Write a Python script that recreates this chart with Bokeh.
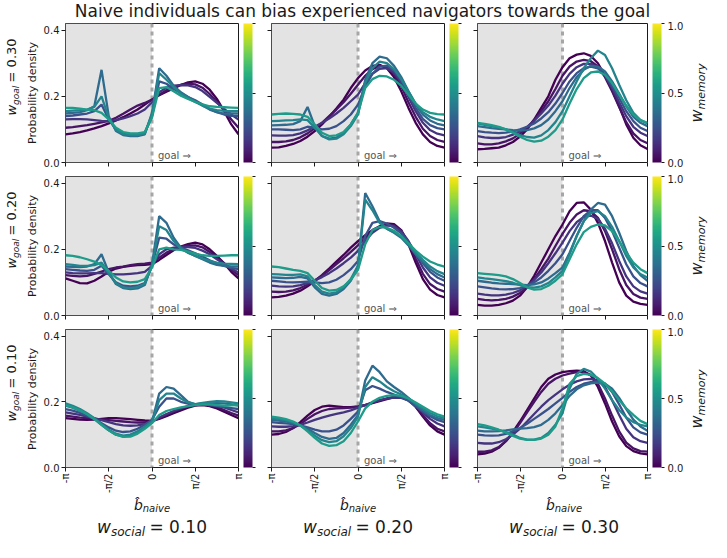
import math
import numpy as np
from bokeh.plotting import figure
from bokeh.layouts import row, column
from bokeh.models import (Range1d, FixedTicker, ColorBar, LinearColorMapper, BoxAnnotation,
                          Span, Label, CustomJSTickFormatter, Title)
from bokeh.palettes import Viridis256
from bokeh.embed import file_html
from bokeh.resources import INLINE
from bokeh.core.properties import value

# ---------------- data ----------------
n_bins = 25
heading = np.linspace(-np.pi, np.pi, n_bins)          # bin centres of b_naive (rad)
w_memory = [0.0, 0.05, 0.15, 0.25, 0.35, 0.45, 0.55]  # one line per value (colour)
w_goal_rows = ["0.30", "0.20", "0.10"]
w_social_cols = ["0.10", "0.20", "0.30"]
x_ticks = [-math.pi, -math.pi / 2, 0, math.pi / 2, math.pi]
x_tick_labels = ["-π", "-π/2", "0", "π/2", "π"]
y_ticks = [0.0, 0.2, 0.4]
y_tick_labels = ["0.0", "0.2", "0.4"]
cbar_ticks = [0.0, 0.5, 1.0]
cbar_tick_labels = ["0.0", "0.5", "1.0"]
title_text = "Naive individuals can bias experienced navigators towards the goal"

dens_g30_s10 = [
    [0.085,0.088,0.092,0.097,0.103,0.110,0.118,0.127,0.137,0.148,0.160,0.175,0.190,0.203,0.214,0.224,0.234,0.242,0.245,0.238,0.220,0.192,0.155,0.115,0.085],
    [0.105,0.107,0.110,0.113,0.117,0.121,0.126,0.135,0.147,0.160,0.172,0.180,0.190,0.205,0.218,0.228,0.235,0.238,0.236,0.226,0.207,0.183,0.158,0.130,0.105],
    [0.130,0.131,0.131,0.130,0.128,0.126,0.125,0.128,0.133,0.140,0.148,0.160,0.182,0.212,0.226,0.232,0.234,0.233,0.228,0.216,0.198,0.180,0.162,0.145,0.130],
    [0.140,0.142,0.145,0.148,0.155,0.175,0.130,0.100,0.088,0.085,0.085,0.090,0.140,0.245,0.238,0.222,0.210,0.198,0.188,0.175,0.162,0.152,0.145,0.141,0.140],
    [0.148,0.150,0.152,0.158,0.170,0.280,0.140,0.095,0.083,0.080,0.080,0.085,0.150,0.285,0.262,0.232,0.212,0.198,0.185,0.172,0.160,0.152,0.148,0.148,0.148],
    [0.155,0.157,0.158,0.160,0.168,0.200,0.135,0.098,0.086,0.083,0.083,0.088,0.145,0.270,0.250,0.228,0.208,0.195,0.183,0.172,0.163,0.158,0.156,0.155,0.155],
    [0.165,0.165,0.163,0.160,0.158,0.150,0.130,0.105,0.092,0.088,0.088,0.092,0.135,0.225,0.228,0.215,0.202,0.192,0.183,0.176,0.170,0.168,0.167,0.166,0.165],
]
dens_g30_s20 = [
    [0.045,0.046,0.050,0.056,0.065,0.078,0.095,0.115,0.138,0.163,0.190,0.225,0.255,0.278,0.292,0.295,0.285,0.258,0.215,0.165,0.120,0.085,0.062,0.050,0.045],
    [0.062,0.062,0.064,0.068,0.076,0.088,0.103,0.120,0.140,0.160,0.182,0.208,0.235,0.262,0.282,0.292,0.288,0.268,0.230,0.182,0.138,0.102,0.080,0.068,0.062],
    [0.082,0.081,0.081,0.083,0.088,0.097,0.108,0.120,0.133,0.148,0.165,0.185,0.205,0.240,0.268,0.283,0.285,0.272,0.242,0.198,0.155,0.120,0.098,0.087,0.082],
    [0.100,0.100,0.099,0.098,0.100,0.108,0.105,0.100,0.102,0.110,0.125,0.145,0.175,0.228,0.268,0.290,0.293,0.278,0.248,0.205,0.165,0.132,0.113,0.104,0.100],
    [0.112,0.113,0.114,0.116,0.125,0.168,0.110,0.080,0.072,0.075,0.090,0.115,0.150,0.250,0.300,0.320,0.315,0.292,0.258,0.215,0.175,0.145,0.127,0.117,0.112],
    [0.125,0.126,0.127,0.128,0.130,0.128,0.105,0.080,0.070,0.072,0.085,0.110,0.145,0.240,0.285,0.305,0.300,0.282,0.252,0.215,0.178,0.152,0.138,0.130,0.125],
    [0.145,0.147,0.148,0.147,0.145,0.138,0.115,0.090,0.080,0.082,0.092,0.115,0.150,0.225,0.252,0.262,0.260,0.250,0.232,0.205,0.178,0.160,0.150,0.146,0.145],
]
dens_g30_s30 = [
    [0.040,0.041,0.043,0.045,0.052,0.062,0.078,0.100,0.130,0.165,0.200,0.250,0.288,0.315,0.326,0.330,0.322,0.300,0.262,0.220,0.170,0.115,0.075,0.052,0.041],
    [0.058,0.055,0.055,0.058,0.064,0.073,0.087,0.105,0.128,0.155,0.185,0.222,0.262,0.290,0.305,0.310,0.306,0.290,0.258,0.215,0.168,0.122,0.088,0.068,0.058],
    [0.080,0.076,0.074,0.074,0.077,0.084,0.094,0.108,0.126,0.148,0.172,0.202,0.238,0.268,0.288,0.298,0.298,0.288,0.262,0.225,0.182,0.140,0.108,0.090,0.080],
    [0.095,0.092,0.090,0.089,0.090,0.094,0.100,0.108,0.118,0.133,0.152,0.178,0.210,0.245,0.270,0.285,0.290,0.284,0.265,0.232,0.195,0.155,0.125,0.105,0.095],
    [0.110,0.107,0.104,0.102,0.100,0.098,0.097,0.098,0.103,0.113,0.130,0.155,0.185,0.225,0.258,0.280,0.292,0.290,0.275,0.245,0.208,0.170,0.138,0.120,0.110],
    [0.118,0.114,0.110,0.106,0.100,0.092,0.083,0.077,0.075,0.082,0.098,0.122,0.155,0.200,0.245,0.285,0.315,0.338,0.325,0.285,0.235,0.188,0.150,0.128,0.118],
    [0.120,0.117,0.113,0.108,0.100,0.090,0.078,0.068,0.063,0.066,0.078,0.098,0.130,0.178,0.222,0.255,0.272,0.275,0.265,0.240,0.205,0.172,0.145,0.128,0.120],
]
dens_g20_s10 = [
    [0.112,0.105,0.098,0.097,0.105,0.118,0.132,0.142,0.147,0.150,0.152,0.153,0.155,0.168,0.183,0.197,0.208,0.216,0.220,0.215,0.200,0.180,0.158,0.132,0.112],
    [0.122,0.120,0.118,0.120,0.126,0.133,0.140,0.145,0.148,0.152,0.155,0.157,0.160,0.175,0.190,0.200,0.207,0.211,0.212,0.206,0.192,0.175,0.158,0.138,0.122],
    [0.130,0.128,0.127,0.127,0.128,0.128,0.126,0.124,0.124,0.126,0.128,0.132,0.150,0.185,0.200,0.205,0.207,0.207,0.204,0.196,0.185,0.170,0.156,0.142,0.130],
    [0.140,0.138,0.136,0.135,0.138,0.150,0.125,0.100,0.090,0.088,0.090,0.098,0.150,0.235,0.232,0.215,0.205,0.197,0.188,0.178,0.167,0.157,0.150,0.144,0.140],
    [0.148,0.147,0.146,0.148,0.155,0.185,0.130,0.095,0.083,0.080,0.082,0.092,0.155,0.300,0.280,0.235,0.205,0.190,0.180,0.170,0.160,0.153,0.150,0.148,0.148],
    [0.155,0.153,0.150,0.150,0.152,0.160,0.128,0.098,0.085,0.083,0.086,0.096,0.150,0.270,0.258,0.225,0.202,0.190,0.180,0.172,0.165,0.160,0.157,0.156,0.155],
    [0.182,0.180,0.176,0.170,0.163,0.152,0.135,0.115,0.103,0.100,0.102,0.110,0.145,0.200,0.205,0.200,0.198,0.193,0.187,0.182,0.180,0.180,0.181,0.182,0.182],
]
dens_g20_s20 = [
    [0.055,0.056,0.060,0.066,0.075,0.088,0.104,0.122,0.142,0.163,0.183,0.205,0.225,0.243,0.258,0.270,0.278,0.276,0.258,0.215,0.160,0.110,0.078,0.062,0.055],
    [0.072,0.071,0.072,0.076,0.083,0.093,0.106,0.120,0.137,0.155,0.173,0.192,0.212,0.235,0.254,0.268,0.275,0.272,0.255,0.220,0.172,0.126,0.095,0.080,0.072],
    [0.090,0.088,0.087,0.088,0.092,0.098,0.106,0.116,0.128,0.142,0.158,0.175,0.195,0.225,0.250,0.265,0.272,0.270,0.255,0.225,0.185,0.145,0.115,0.099,0.090],
    [0.105,0.103,0.101,0.100,0.101,0.102,0.100,0.098,0.100,0.108,0.122,0.140,0.165,0.240,0.280,0.285,0.278,0.265,0.248,0.222,0.190,0.158,0.132,0.115,0.105],
    [0.115,0.114,0.113,0.114,0.117,0.112,0.085,0.065,0.060,0.065,0.080,0.105,0.150,0.370,0.330,0.285,0.262,0.250,0.235,0.212,0.185,0.162,0.140,0.125,0.115],
    [0.125,0.124,0.123,0.123,0.124,0.118,0.092,0.072,0.066,0.070,0.085,0.110,0.150,0.350,0.318,0.280,0.262,0.252,0.238,0.215,0.190,0.168,0.148,0.134,0.125],
    [0.148,0.146,0.142,0.138,0.135,0.128,0.105,0.083,0.075,0.077,0.088,0.108,0.138,0.215,0.258,0.268,0.265,0.256,0.240,0.218,0.196,0.178,0.163,0.154,0.148],
]
dens_g20_s30 = [
    [0.032,0.030,0.030,0.032,0.037,0.045,0.060,0.085,0.120,0.160,0.200,0.240,0.275,0.315,0.340,0.342,0.320,0.280,0.225,0.160,0.100,0.060,0.042,0.035,0.032],
    [0.050,0.047,0.046,0.047,0.050,0.057,0.068,0.085,0.110,0.140,0.172,0.210,0.247,0.280,0.305,0.318,0.315,0.295,0.255,0.200,0.140,0.092,0.065,0.054,0.050],
    [0.066,0.063,0.061,0.061,0.063,0.068,0.076,0.090,0.108,0.130,0.158,0.188,0.220,0.255,0.282,0.298,0.302,0.292,0.262,0.218,0.165,0.118,0.088,0.073,0.066],
    [0.088,0.085,0.082,0.080,0.079,0.080,0.083,0.090,0.100,0.115,0.135,0.158,0.185,0.225,0.265,0.300,0.318,0.318,0.295,0.255,0.205,0.155,0.118,0.098,0.088],
    [0.105,0.102,0.099,0.097,0.096,0.095,0.093,0.092,0.094,0.100,0.112,0.128,0.145,0.190,0.240,0.285,0.320,0.340,0.335,0.300,0.250,0.195,0.150,0.122,0.105],
    [0.115,0.112,0.110,0.107,0.104,0.099,0.092,0.086,0.084,0.088,0.098,0.115,0.135,0.185,0.240,0.285,0.310,0.315,0.300,0.268,0.225,0.180,0.145,0.125,0.115],
    [0.128,0.126,0.124,0.122,0.118,0.110,0.098,0.085,0.078,0.080,0.090,0.105,0.125,0.170,0.215,0.252,0.268,0.275,0.272,0.255,0.225,0.190,0.160,0.140,0.128],
]
dens_g10_s10 = [
    [0.150,0.148,0.146,0.145,0.146,0.148,0.150,0.150,0.149,0.147,0.145,0.143,0.142,0.148,0.156,0.165,0.174,0.182,0.188,0.190,0.187,0.180,0.170,0.160,0.150],
    [0.158,0.155,0.152,0.150,0.148,0.146,0.144,0.142,0.140,0.138,0.137,0.137,0.140,0.150,0.160,0.170,0.178,0.185,0.190,0.192,0.190,0.184,0.175,0.166,0.158],
    [0.168,0.164,0.160,0.155,0.150,0.144,0.138,0.132,0.128,0.127,0.128,0.132,0.140,0.152,0.163,0.172,0.180,0.187,0.192,0.195,0.194,0.190,0.183,0.175,0.168],
    [0.178,0.173,0.166,0.158,0.148,0.135,0.122,0.112,0.108,0.110,0.118,0.130,0.145,0.185,0.210,0.210,0.200,0.194,0.192,0.192,0.190,0.187,0.184,0.181,0.178],
    [0.188,0.182,0.173,0.162,0.148,0.130,0.113,0.100,0.095,0.098,0.108,0.122,0.140,0.225,0.245,0.240,0.220,0.200,0.192,0.193,0.195,0.196,0.195,0.192,0.188],
    [0.195,0.188,0.178,0.165,0.150,0.132,0.115,0.103,0.097,0.100,0.110,0.124,0.140,0.205,0.225,0.225,0.210,0.198,0.193,0.197,0.200,0.202,0.201,0.198,0.195],
    [0.190,0.183,0.174,0.162,0.147,0.130,0.113,0.100,0.093,0.094,0.103,0.118,0.135,0.160,0.172,0.178,0.183,0.187,0.190,0.192,0.192,0.190,0.188,0.189,0.190],
]
dens_g10_s20 = [
    [0.100,0.102,0.108,0.120,0.138,0.158,0.175,0.185,0.188,0.186,0.184,0.184,0.186,0.190,0.196,0.202,0.208,0.214,0.216,0.208,0.185,0.155,0.128,0.110,0.100],
    [0.110,0.110,0.113,0.120,0.132,0.148,0.162,0.172,0.178,0.180,0.181,0.182,0.185,0.190,0.197,0.204,0.210,0.214,0.214,0.205,0.185,0.160,0.135,0.118,0.110],
    [0.125,0.124,0.124,0.126,0.130,0.137,0.145,0.152,0.158,0.163,0.168,0.174,0.182,0.190,0.198,0.205,0.210,0.213,0.212,0.204,0.188,0.168,0.148,0.134,0.125],
    [0.138,0.136,0.134,0.132,0.128,0.122,0.115,0.110,0.110,0.115,0.128,0.148,0.170,0.235,0.248,0.240,0.230,0.222,0.214,0.203,0.186,0.170,0.156,0.145,0.138],
    [0.145,0.143,0.140,0.135,0.128,0.118,0.105,0.093,0.087,0.090,0.105,0.130,0.160,0.265,0.310,0.290,0.262,0.245,0.230,0.212,0.192,0.175,0.160,0.150,0.145],
    [0.150,0.148,0.144,0.138,0.128,0.113,0.097,0.083,0.077,0.080,0.095,0.120,0.155,0.245,0.275,0.262,0.245,0.232,0.222,0.210,0.195,0.180,0.166,0.156,0.150],
    [0.155,0.152,0.147,0.140,0.128,0.110,0.090,0.073,0.066,0.068,0.080,0.105,0.140,0.180,0.200,0.212,0.218,0.220,0.218,0.210,0.198,0.185,0.172,0.162,0.155],
]
dens_g10_s30 = [
    [0.040,0.042,0.048,0.060,0.080,0.108,0.140,0.175,0.210,0.245,0.270,0.283,0.290,0.293,0.295,0.293,0.280,0.245,0.195,0.140,0.095,0.065,0.050,0.043,0.040],
    [0.048,0.048,0.052,0.062,0.080,0.105,0.135,0.168,0.200,0.230,0.255,0.270,0.280,0.286,0.290,0.290,0.282,0.255,0.210,0.158,0.110,0.076,0.058,0.050,0.048],
    [0.075,0.073,0.073,0.077,0.086,0.100,0.118,0.140,0.163,0.185,0.205,0.222,0.238,0.252,0.262,0.268,0.270,0.265,0.245,0.205,0.160,0.118,0.092,0.080,0.075],
    [0.100,0.098,0.097,0.098,0.102,0.110,0.120,0.133,0.148,0.163,0.178,0.195,0.212,0.230,0.245,0.255,0.260,0.262,0.255,0.230,0.192,0.152,0.122,0.107,0.100],
    [0.112,0.110,0.110,0.111,0.113,0.116,0.118,0.120,0.123,0.130,0.145,0.165,0.190,0.218,0.238,0.250,0.256,0.258,0.255,0.240,0.212,0.178,0.146,0.125,0.112],
    [0.125,0.122,0.118,0.114,0.108,0.100,0.090,0.085,0.085,0.090,0.105,0.130,0.165,0.240,0.285,0.300,0.292,0.270,0.240,0.205,0.175,0.152,0.138,0.130,0.125],
    [0.132,0.128,0.122,0.115,0.106,0.096,0.088,0.084,0.084,0.088,0.100,0.125,0.180,0.255,0.278,0.285,0.282,0.272,0.255,0.232,0.205,0.180,0.160,0.142,0.132],
]

panels = [
    [dens_g30_s10, dens_g30_s20, dens_g30_s30],
    [dens_g20_s10, dens_g20_s20, dens_g20_s30],
    [dens_g10_s10, dens_g10_s20, dens_g10_s30],
]

# ---------------- style / layout ----------------
FONT = "DejaVu Sans"
INK = "#1a1a1a"
SHADE = "#e3e3e3"
FW, FH = 173, 139
MAPPER = LinearColorMapper(palette=Viridis256, low=0, high=1)

TITLE_H = 21
ROW_TOP = TITLE_H
ROW_H = [153, 153, 168]
ROW_BOTTOM = ROW_TOP + sum(ROW_H)
TOTAL_H = 542
TOTAL_W = 711
LEFT_W = 40
COL_LB = [25, 11, 11]
COL_RB = [22, 22, 36]
MID = 0.345   # distance baseline -> middle of text box, in em


def viridis(v):
    return Viridis256[int(round(v * 255))]


CW = {'g': 0.635, 'o': 0.612, 'a': 0.613, 'l': 0.278, 's': 0.521, 'c': 0.550, 'i': 0.278,
      'm': 0.974, 'e': 0.615, 'r': 0.411, 'y': 0.592, 'n': 0.634, 'v': 0.592, 'b': 0.635,
      'w': 0.818, '=': 0.838, ' ': 0.318, '.': 0.318, '\u0302': 0.0}
for d in "0123456789":
    CW[d] = 0.636


def tw(s, size):
    return sum(CW.get(ch, 0.6) for ch in s) * size


def blank(w, h):
    p = figure(width=w, height=h, x_range=Range1d(0, w), y_range=Range1d(0, h),
               output_backend="svg", toolbar_location=None,
               x_axis_location=None, y_axis_location=None, min_border=0)
    p.outline_line_color = None
    p.grid.visible = False
    p.background_fill_color = "white"
    p.border_fill_color = "white"
    return p


def put(p, x, y, s, size, italic=False, angle=0.0, align="left"):
    p.text(x=[x], y=[y], text=[s], angle=angle, text_font=value(FONT),
           text_font_size=f"{size}px", text_font_style="italic" if italic else "normal",
           text_align=align, text_baseline="middle", text_color=INK)


def math_label(p, x, y, main, sub, rest, M, S, vertical=False):
    """(x, y): centre of the label; middle line of the main text."""
    w1, w2 = tw(main, M), tw(sub, S)
    gap = 0.25 * M if rest else 0
    w3 = tw(rest, M) if rest else 0
    total = w1 + w2 + gap + w3
    drop = 0.22 * M + MID * (M - S)
    if not vertical:
        x0 = x - total / 2
        put(p, x0, y, main, M, italic=True)
        put(p, x0 + w1, y - drop, sub, S, italic=True)
        if rest:
            put(p, x0 + w1 + w2 + gap, y, rest, M)
    else:
        a = math.pi / 2
        y0 = y - total / 2
        put(p, x, y0, main, M, italic=True, angle=a)
        put(p, x + drop, y0 + w1, sub, S, italic=True, angle=a)
        if rest:
            put(p, x, y0 + w1 + w2 + gap, rest, M, angle=a)


def style_axis(ax):
    ax.axis_line_color = None
    ax.major_tick_line_color = INK
    ax.major_tick_out = 4
    ax.major_tick_in = 0
    ax.minor_tick_line_color = None
    ax.major_label_text_font = FONT
    ax.major_label_text_font_size = "10px"
    ax.major_label_text_color = INK
    ax.major_label_standoff = 2


def make_panel(r, c):
    lb, rb = COL_LB[c], COL_RB[c]
    tb = 2
    bb = ROW_H[r] - tb - FH
    p = figure(width=lb + FW + rb, height=ROW_H[r],
               x_range=Range1d(-math.pi, math.pi), y_range=Range1d(0, 0.42),
               output_backend="svg", toolbar_location=None,
               min_border_left=lb, min_border_right=rb, min_border_top=tb, min_border_bottom=bb)
    p.outline_line_color = INK
    p.outline_line_width = 1
    p.grid.visible = False
    p.background_fill_color = "white"
    p.border_fill_color = "white"
    p.add_layout(BoxAnnotation(right=0, fill_color=SHADE, fill_alpha=1, line_color=None, level="underlay"))
    p.add_layout(Span(location=0, dimension="height", line_color="#a6a6a6", line_width=3,
                      line_dash="4 4", level="underlay"))
    dens = panels[r][c]
    for i, v in enumerate(w_memory):
        p.line(heading, dens[i], line_color=viridis(v), line_width=2.3)
    p.add_layout(Label(x=0, y=0, x_offset=6, y_offset=2, text="goal ⇒", text_font=FONT,
                       text_font_size="10px", text_color="#555555"))
    style_axis(p.xaxis[0])
    style_axis(p.yaxis[0])
    p.xaxis.ticker = FixedTicker(ticks=x_ticks)
    p.yaxis.ticker = FixedTicker(ticks=y_ticks)
    if r == 2:
        p.xaxis.major_label_overrides = dict(zip(x_ticks, x_tick_labels))
        p.xaxis.major_label_orientation = math.pi / 2
    else:
        p.xaxis.formatter = CustomJSTickFormatter(code="return ''")
    if c == 0:
        p.yaxis.major_label_overrides = dict(zip(y_ticks, y_tick_labels))
    else:
        p.yaxis.formatter = CustomJSTickFormatter(code="return ''")
    # thin white spacer between the frame and the colour bar
    p.add_layout(Title(text=" ", text_font_size="1px", standoff=2, text_color="white"), "right")
    cb = ColorBar(color_mapper=MAPPER, ticker=FixedTicker(ticks=cbar_ticks), width=9,
                  padding=0, margin=0, bar_line_color=None,
                  major_tick_line_color=INK, major_tick_in=0, major_tick_out=3,
                  minor_tick_line_color=None, label_standoff=3,
                  major_label_text_font=FONT, major_label_text_font_size="10px",
                  major_label_text_color=INK, background_fill_color="white",
                  border_line_color=None)
    if c == 2:
        cb.major_label_overrides = dict(zip(cbar_ticks, cbar_tick_labels))
    else:
        cb.formatter = CustomJSTickFormatter(code="return ''")
    p.add_layout(cb, "right")
    return p


# ---- grid of panels ----
grid = column(*[row(*[make_panel(r, c) for c in range(3)]) for r in range(3)])

col_frame_left = []
x = LEFT_W
for c in range(3):
    col_frame_left.append(x + COL_LB[c])
    x += COL_LB[c] + FW + COL_RB[c]
grid_right = x
RIGHT_W = TOTAL_W - grid_right
col_frame_centres = [fl + FW / 2 for fl in col_frame_left]
row_frame_centres = []
y = ROW_TOP
for r in range(3):
    row_frame_centres.append(y + 2 + FH / 2)
    y += ROW_H[r]

# title
title_fig = blank(TOTAL_W, TITLE_H)
put(title_fig, 362, TITLE_H / 2, title_text, 17, align="center")

# left labels
left_fig = blank(LEFT_W, ROW_BOTTOM - ROW_TOP)
for r, g in enumerate(w_goal_rows):
    cy = ROW_BOTTOM - row_frame_centres[r]
    math_label(left_fig, 11, cy + 16, "w", "goal", "= " + g, 13, 9, vertical=True)
    left_fig.text(x=[32], y=[cy], text=["Probability density"], angle=math.pi / 2,
                  text_font=value(FONT), text_font_size="11px", text_align="center",
                  text_baseline="middle", text_color=INK)

# right labels
right_fig = blank(RIGHT_W, ROW_BOTTOM - ROW_TOP)
for r in range(3):
    cy = ROW_BOTTOM - row_frame_centres[r]
    math_label(right_fig, 10, cy, "w", "memory", "", 16, 11, vertical=True)

# bottom labels
BOT_H = TOTAL_H - ROW_BOTTOM
bottom_fig = blank(TOTAL_W, BOT_H)
for c, s in enumerate(w_social_cols):
    cx = col_frame_centres[c]
    math_label(bottom_fig, cx, TOTAL_H - 504, "b\u0302", "naive", "", 14, 10)
    math_label(bottom_fig, cx, TOTAL_H - 526, "w", "social", "= " + s, 17, 12)

layout = column(title_fig, row(left_fig, grid, right_fig), bottom_fig)

open("out.html", "w").write(file_html(layout, INLINE))
